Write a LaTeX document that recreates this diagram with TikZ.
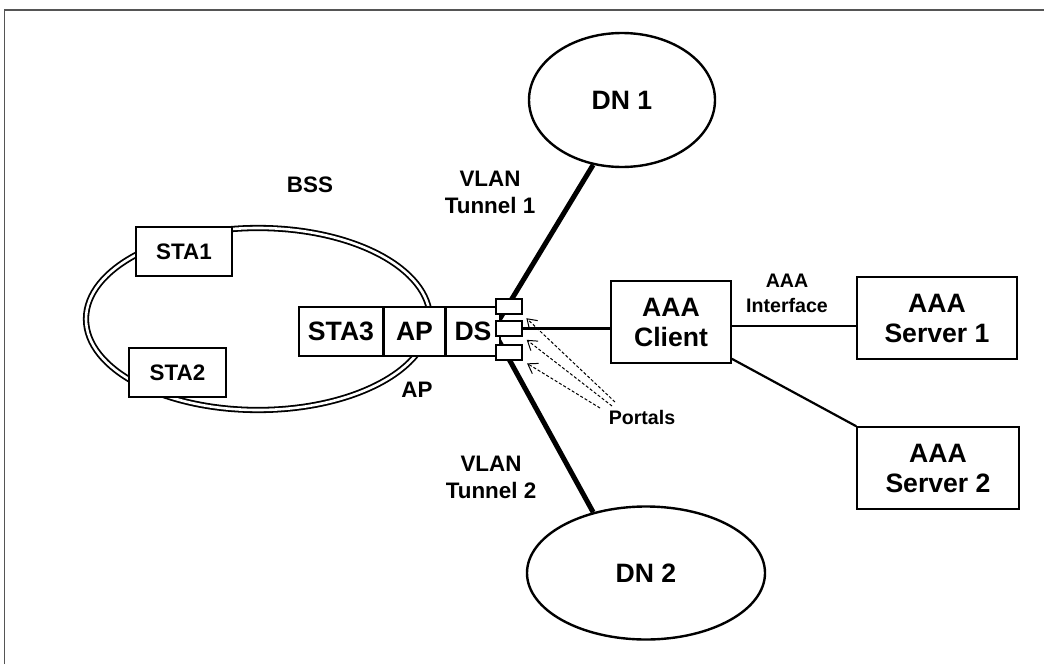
\documentclass[tikz,border=0pt]{standalone}
\usepackage{fontspec}
\setmainfont{Liberation Sans}
\usepackage{tikz}
\usetikzlibrary{shapes,arrows.meta,positioning,calc}
\definecolor{framegray}{RGB}{85,85,85}

\begin{document}
\begin{tikzpicture}[x=0.5pt, y=-0.5pt, node distance=0pt, >={Straight Barb[length=4.5pt,width=6pt]},
    bigfont/.style={font=\fontsize{13.3}{15}\selectfont\bfseries},
    midfont/.style={font=\fontsize{11.2}{13.5}\selectfont\bfseries},
    smallfont/.style={font=\fontsize{9.8}{12.5}\selectfont\bfseries},
    box/.style={draw, rectangle, line width=0.75pt, fill=white, inner sep=0pt, align=center},
    dnnet/.style={draw, ellipse, line width=1.2pt, inner sep=0pt, bigfont},
    tunnel/.style={line width=2.5pt},
    link/.style={line width=1.1pt},
    portal/.style={box, minimum width=13pt, minimum height=7.5pt}]
    \useasboundingbox (0,0) rectangle (1044,664);

    % frame
    \draw [framegray, line width=0.5pt] (4,664) -- (4,9.5);
    \draw [framegray, line width=1pt] (4,9.5) -- (1044,9.5);

    % BSS
    \node [draw, ellipse, double, line width=0.9pt, double distance=1.3pt, minimum width=172pt, minimum height=91pt] (bss) at (258,319) {};
    \node [midfont] (bsslabel) at (310,185) {BSS};
    \node [box, midfont, minimum width=48pt, minimum height=24.5pt] (sta1) at (184,251.5) {STA1};
    \node [box, midfont, minimum width=48.5pt, minimum height=24.5pt] (sta2) at (177.5,372.5) {STA2};

    % distribution networks
    \node [dnnet, minimum width=93pt, minimum height=67pt] (dn1) at (622,100) {DN 1};
    \node [dnnet, minimum width=119pt, minimum height=66.5pt] (dn2) at (646,573) {DN 2};
    \coordinate (hub) at (493,330);
    \draw [tunnel] (hub) -- (dn1.246);
    \draw [tunnel] (hub) -- (dn2.131);

    % AP and DS
    \node [box, bigfont, minimum width=42pt, minimum height=24.5pt] (sta3) at (341,331.5) {STA3};
    \node [box, bigfont, minimum width=30pt, minimum height=24.5pt, right=of sta3] (ap) {AP};
    \node [box, bigfont, minimum width=27pt, minimum height=24.5pt, right=of ap] (ds) {DS};
    \node [midfont] (aplabel) at (417,390) {AP};

    % portals
    \node [portal] (p2) at (509,328.5) {};
    \node [portal, yshift=11pt] (p1) at (p2) {};
    \node [portal, yshift=-12pt] (p3) at (p2) {};
    \node [smallfont] (portals) at (642,417) {Portals};
    \coordinate (ptl1) at (615,402);
    \coordinate (ptl2) at (612,406);
    \coordinate (ptl3) at (600,408);
    \draw [->, line width=0.5pt, dash pattern=on 1.5pt off 1pt, shorten >=2.5pt] (ptl1) -- (p1.south east);
    \draw [->, line width=0.5pt, dash pattern=on 1.5pt off 1pt, shorten >=2.5pt] (ptl2) -- (p2.south east);
    \draw [->, line width=0.5pt, dash pattern=on 1.5pt off 1pt, shorten >=2.5pt] (ptl3) -- (p3.south east);

    % AAA
    \node [box, bigfont, minimum width=60pt, minimum height=41pt] (client) at (671,322) {AAA\\Client};
    \node [box, bigfont, minimum width=80pt, minimum height=41pt] (server1) at (937,318) {AAA\\Server 1};
    \node [box, bigfont, minimum width=81pt, minimum height=41pt] (server2) at (938,468) {AAA\\Server 2};
    \node [smallfont, align=center] (iface) at (787,293) {AAA\\Interface};
    \node [midfont, align=center] (vlan1) at (490,192) {VLAN\\Tunnel 1};
    \node [midfont, align=center] (vlan2) at (491,477) {VLAN\\Tunnel 2};

    \draw [link] (p2.east) -- (p2.east -| client.west);
    \draw [link] (client.east |- server1.west) ++(0,8) -- ($(server1.west)+(0,8)$);
    \draw [link] (client.south east) ++(0,-5) -- (server2.north west);
\end{tikzpicture}
\end{document}
